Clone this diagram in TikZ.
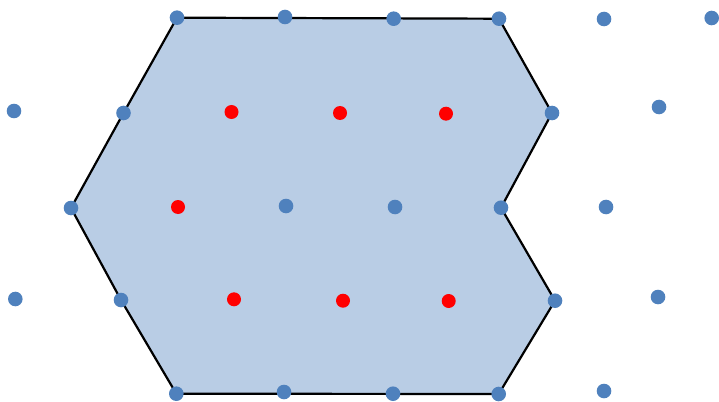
\documentclass[tikz,border=0pt]{standalone}
\definecolor{dotblue}{HTML}{4F81BD}
\definecolor{fillblue}{HTML}{B9CDE5}
\definecolor{dotred}{HTML}{FF0000}
\begin{document}
\begin{tikzpicture}[x=1pt,y=-1pt,
  bdot/.style={circle,fill=dotblue,inner sep=0pt,minimum size=14.6pt},
  rdot/.style={circle,fill=dotred,inner sep=0pt,minimum size=14pt},
  border/.style={draw=black,line width=2.2pt,line join=miter,fill=fillblue}]
\useasboundingbox (0,0) rectangle (719,401);
% polygon corner dots (coordinates first for the fill)
\coordinate (c1) at (177,17.7);
\coordinate (c2) at (499,18.7);
\coordinate (c3) at (552,113);
\coordinate (c4) at (501,207.7);
\coordinate (c5) at (555,300.7);
\coordinate (c6) at (498.7,394);
\coordinate (c7) at (176.3,393.7);
\coordinate (c8) at (121,300);
\coordinate (c9) at (71,208);
\coordinate (c10) at (123.5,113);
\draw[border] (c1) -- (c2) -- (c3) -- (c4) -- (c5) -- (c6) -- (c7) -- (c8) -- (c9) -- (c10) -- cycle;
% blue dots
\foreach \n/\p in {c1/{(177,17.7)}, c2/{(499,18.7)}, c3/{(552,113)}, c4/{(501,207.7)}, c5/{(555,300.7)},
  c6/{(498.7,394)}, c7/{(176.3,393.7)}, c8/{(121,300)}, c9/{(71,208)}, c10/{(123.5,113)}}
  \node[bdot] (d\n) at \p {};
\node[bdot] (t2) at (285,17) {};
\node[bdot] (t3) at (393.7,18.7) {};
\node[bdot] (t5) at (604,19) {};
\node[bdot] (t6) at (711.7,18) {};
\node[bdot] (m1) at (14,111) {};
\node[bdot] (m7) at (659,107) {};
\node[bdot] (k3) at (286,206) {};
\node[bdot] (k4) at (395,207) {};
\node[bdot] (k6) at (606,207) {};
\node[bdot] (l1) at (15.3,299) {};
\node[bdot] (l7) at (658,297) {};
\node[bdot] (b2) at (284,392) {};
\node[bdot] (b3) at (393,393.7) {};
\node[bdot] (b5) at (604,391) {};
% red dots
\node[rdot] (r1) at (231.5,112) {};
\node[rdot] (r2) at (340,113) {};
\node[rdot] (r3) at (446,113.7) {};
\node[rdot] (r4) at (178,207) {};
\node[rdot] (r5) at (234,299.3) {};
\node[rdot] (r6) at (343,300.7) {};
\node[rdot] (r7) at (448.7,301) {};
\end{tikzpicture}
\end{document}
